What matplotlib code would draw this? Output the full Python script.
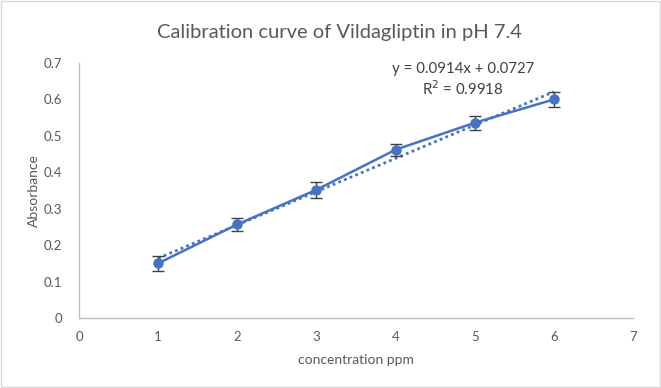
import numpy as np
import matplotlib.pyplot as plt
from matplotlib.patches import Rectangle

# datos
conc = [1, 2, 3, 4, 5, 6]
absorb = [0.150, 0.257, 0.352, 0.462, 0.536, 0.600]
err = [0.020, 0.018, 0.022, 0.017, 0.019, 0.021]
pendiente = 0.0914
ordenada = 0.0727
r2 = 0.9918

azul = '#4472C4'
gris_txt = '#595959'

plt.rcParams['font.family'] = ['Lato', 'DejaVu Sans']

fig = plt.figure(figsize=(6.61, 3.88), dpi=100)
ax = fig.add_axes([0.1195, 0.1804, 0.8382, 0.6572])

# borde del grafico
fig.patches.append(Rectangle((0.002, 0.003), 0.996, 0.994, transform=fig.transFigure,
                             fill=False, ec='#D9D9D9', lw=1))

# linea de tendencia
xt = np.array([conc[0], conc[-1]])
ax.plot(xt, pendiente * xt + ordenada, linestyle=(0, (1, 1.2)), color=azul, lw=2, zorder=2)

ax.errorbar(conc, absorb, yerr=err, color=azul, lw=1.8, marker='o', markersize=6.5,
            ecolor='#404040', elinewidth=1, capsize=4, capthick=1, zorder=3)

ax.set_xlim(0, 7)
ax.set_ylim(0, 0.7)
ax.set_xticks(range(0, 8))
ax.set_yticks(np.arange(0, 0.71, 0.1))
ax.set_yticklabels(['0', '0.1', '0.2', '0.3', '0.4', '0.5', '0.6', '0.7'])
ax.tick_params(length=0, labelsize=9.5, colors=gris_txt, pad=9)
ax.tick_params(axis='y', pad=12)
for s in ['top', 'right']:
    ax.spines[s].set_visible(False)
for s in ['left', 'bottom']:
    ax.spines[s].set_color('#BFBFBF')
    ax.spines[s].set_linewidth(1)

ax.set_xlabel('concentration ppm', fontsize=10, color=gris_txt, labelpad=8)
ax.set_ylabel('Absorbance', fontsize=10, color=gris_txt, labelpad=3)

fig.text(0.514, 0.917, 'Calibration curve of Vildagliptin in pH 7.4', ha='center', va='center',
         fontsize=14.5, color=gris_txt)

etiqueta = 'y = {}x + {}\nR$^2$ = {}'.format(pendiente, ordenada, r2)
fig.text(0.700, 0.794, etiqueta, ha='center', va='center', fontsize=10.8,
         color='#404040', linespacing=1.25)

plt.savefig('out.png', dpi=100)
